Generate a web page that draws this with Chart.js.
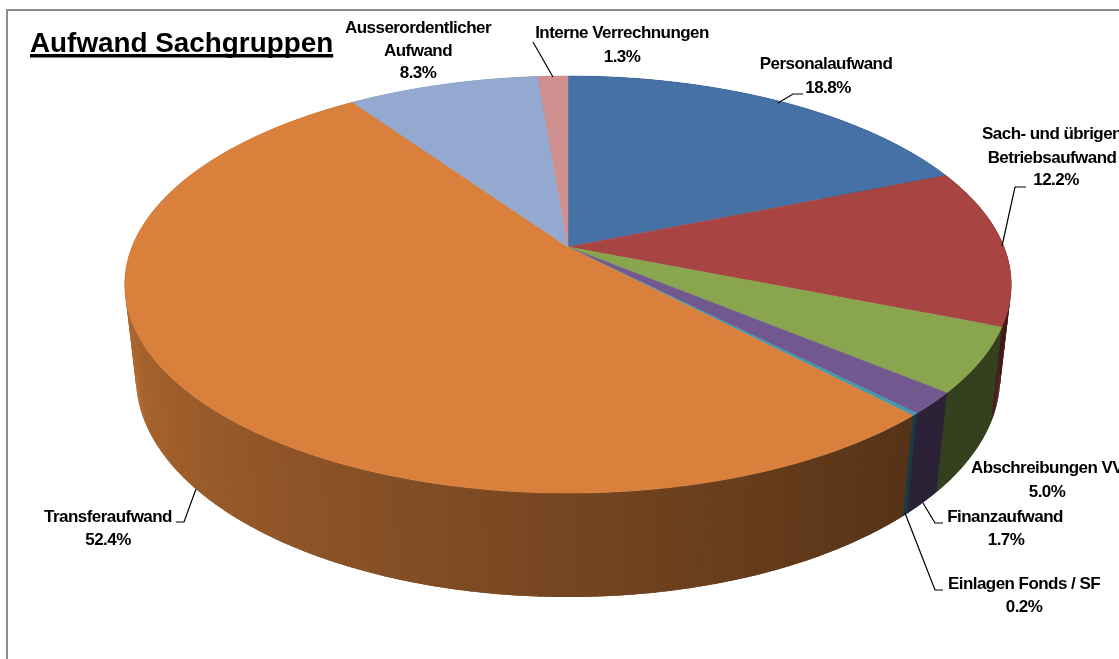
<!DOCTYPE html>
<html lang="de">
<head>
<meta charset="utf-8">
<title>Aufwand Sachgruppen</title>
<style>
  html, body { margin: 0; padding: 0; background: #fff; overflow: hidden; }
  #wrap { position: relative; width: 1119px; height: 659px; }
</style>
</head>
<body>
<div id="wrap"><canvas id="chart" width="1119" height="659"></canvas></div>
<script src="https://cdn.jsdelivr.net/npm/chart.js@4"></script>
<script>
'use strict';

// ── Data ───────────────────────────────────────────────────────────────────────
const chartTitle = 'Aufwand Sachgruppen';
const categories = [
  'Personalaufwand',
  'Sach- und übrigen\nBetriebsaufwand',
  'Abschreibungen VV',
  'Finanzaufwand',
  'Einlagen Fonds / SF',
  'Transferaufwand',
  'Ausserordentlicher\nAufwand',
  'Interne Verrechnungen',
];
const shares = [18.8, 12.2, 5.0, 1.7, 0.2, 52.4, 8.3, 1.3];

// ── Styles ─────────────────────────────────────────────────────────────────────
const sliceColors = ['#4571A6', '#A84442', '#89A54E', '#71588F', '#4198AF', '#D9813C', '#93A9CF', '#CF9190'];
const LABEL_FONT = 'bold 17px "Liberation Sans", Arial, sans-serif';
const TITLE_FONT = 'bold 27.85px "Liberation Sans", Arial, sans-serif';

// label layout, same order as categories: centre x, then y of each text line
const labelBoxes = [
  { x: 826, ys: [64, 88], pctX: 828 },
  { x: 1052, ys: [134, 158, 180], pctX: 1056 },
  { x: 1047, ys: [468, 492] },
  { x: 1005, ys: [517, 540], pctX: 1006 },
  { x: 1024, ys: [584, 607] },
  { x: 108, ys: [517, 540] },
  { x: 418, ys: [28, 51, 73] },
  { x: 622, ys: [33, 57] },
];
const leaderLines = [
  [[778, 103], [793, 94], [803, 94]],
  [[1002, 246], [1015, 187], [1026, 187]],
  null,
  [[923, 503], [935, 523], [943, 523]],
  [[905, 513], [935, 590], [943, 590]],
  [[196, 489], [184, 522], [176, 522]],
  null,
  [[533, 42], [553, 77]],
];

// tilt of the pie: perspective factor, half sizes of the disc, and the thickness
const view = { k: 0.18, a: 436, b: 201.8, depthY: 94, depthW: 0.025 };

// ── Projection ─────────────────────────────────────────────────────────────────

// angle in chart radians -> canvas point, on the top rim (low=false) or lower rim
function project(cx, cy, angle, low) {
  const u = Math.cos(angle);
  const v = Math.sin(angle);
  const w = 1 - view.k * v + (low ? view.depthW : 0);
  return {
    x: cx + view.a * u / w,
    y: cy + (view.b * v + (low ? view.depthY : 0)) / w,
  };
}

function shade(hex, f) {
  const n = parseInt(hex.slice(1), 16);
  const c = [(n >> 16) & 255, (n >> 8) & 255, n & 255].map(v => Math.round(v * f));
  return `rgb(${c[0]},${c[1]},${c[2]})`;
}

// side wall gets lighter going round to the left
function wallFactor(angle) {
  let deg = (angle * 180 / Math.PI + 90) % 360;
  if (deg < 0) deg += 360;
  if (deg <= 136) return 0.39;
  if (deg >= 270) return 0.85;
  return 0.39 + 0.46 * (deg - 136) / 134;
}

function drawWalls(ctx, arcs) {
  const quads = [];
  arcs.forEach((arc, i) => {
    const span = arc.endAngle - arc.startAngle;
    const steps = Math.max(2, Math.ceil(span / (0.6 * Math.PI / 180)));
    for (let s = 0; s < steps; s++) {
      const a0 = arc.startAngle + span * s / steps;
      const a1 = arc.startAngle + span * (s + 1) / steps;
      quads.push({ a0, a1, mid: Math.sin((a0 + a1) / 2), color: sliceColors[i], x: arc.x, y: arc.y });
    }
  });
  // back to front; each quad runs a little under the one painted after it, no seams
  quads.sort((p, q) => p.mid - q.mid);
  const overlap = 0.5 * Math.PI / 180;
  quads.forEach(q => {
    const midAngle = (q.a0 + q.a1) / 2;
    const towardFront = Math.cos(midAngle) > 0;
    const from = towardFront ? q.a0 : q.a0 - overlap;
    const to = towardFront ? q.a1 + overlap : q.a1;
    const p = [
      project(q.x, q.y, from, false),
      project(q.x, q.y, to, false),
      project(q.x, q.y, to, true),
      project(q.x, q.y, from, true),
    ];
    ctx.beginPath();
    p.forEach((pt, i) => (i ? ctx.lineTo(pt.x, pt.y) : ctx.moveTo(pt.x, pt.y)));
    ctx.closePath();
    ctx.fillStyle = shade(q.color, wallFactor(midAngle));
    ctx.fill();
  });
}

function drawTop(ctx, arcs) {
  arcs.forEach((arc, i) => {
    const span = arc.endAngle - arc.startAngle;
    const steps = Math.max(2, Math.ceil(span / (Math.PI / 360)));
    ctx.beginPath();
    ctx.moveTo(arc.x, arc.y);
    for (let s = 0; s <= steps; s++) {
      const pt = project(arc.x, arc.y, arc.startAngle + span * s / steps, false);
      ctx.lineTo(pt.x, pt.y);
    }
    ctx.closePath();
    ctx.fillStyle = sliceColors[i];
    ctx.strokeStyle = sliceColors[i];
    ctx.lineWidth = 0.5;
    ctx.fill();
    ctx.stroke();
  });
}

function drawLabels(ctx) {
  ctx.font = LABEL_FONT;
  ctx.letterSpacing = '-0.55px';
  ctx.fillStyle = '#000';
  ctx.textAlign = 'center';
  ctx.textBaseline = 'middle';
  categories.forEach((name, i) => {
    const box = labelBoxes[i];
    const lines = name.split('\n');
    lines.forEach((line, l) => ctx.fillText(line, box.x, box.ys[l]));
    const pct = shares[i].toFixed(1) + '%';
    ctx.fillText(pct, box.pctX || box.x, box.ys[lines.length]);

    const leader = leaderLines[i];
    if (!leader) return;
    ctx.beginPath();
    leader.forEach((pt, n) => (n ? ctx.lineTo(pt[0], pt[1]) : ctx.moveTo(pt[0], pt[1])));
    ctx.strokeStyle = '#000';
    ctx.lineWidth = 1.2;
    ctx.stroke();
  });
  ctx.letterSpacing = '0px';
}

// ── Plugins ────────────────────────────────────────────────────────────────────

const framePlugin = {
  id: 'frame',
  beforeDraw(chart) {
    const ctx = chart.ctx;
    ctx.save();
    ctx.fillStyle = '#fff';
    ctx.fillRect(0, 0, chart.width, chart.height);
    ctx.strokeStyle = '#8c8c8c';
    ctx.lineWidth = 2;
    ctx.strokeRect(7, 10, chart.width + 20, chart.height + 20);
    ctx.restore();
  },
};

// draws the arcs of the pie controller as a tilted disc with a side wall
const tiltedPiePlugin = {
  id: 'tiltedPie',
  beforeDatasetsDraw(chart) {
    const ctx = chart.ctx;
    const arcs = chart.getDatasetMeta(0).data;
    ctx.save();
    drawWalls(ctx, arcs);
    drawTop(ctx, arcs);
    drawLabels(ctx);

    // title with its underline
    ctx.font = TITLE_FONT;
    ctx.fillStyle = '#000';
    ctx.textAlign = 'left';
    ctx.textBaseline = 'alphabetic';
    ctx.fillText(chartTitle, 30, 52);
    ctx.fillRect(30, 54, ctx.measureText(chartTitle).width, 3.5);
    ctx.restore();
    return false;
  },
};

// ── Bootstrap ──────────────────────────────────────────────────────────────────

new Chart(document.getElementById('chart').getContext('2d'), {
  type: 'pie',
  data: {
    labels: categories,
    datasets: [{ data: shares, backgroundColor: sliceColors, borderWidth: 0 }],
  },
  options: {
    responsive: false,
    animation: false,
    events: [],
    // puts the pie centre where the slices meet
    layout: { padding: { left: 17, right: 0, top: 0, bottom: 165 } },
    plugins: {
      legend: { display: false },
      tooltip: { enabled: false },
    },
  },
  plugins: [framePlugin, tiltedPiePlugin],
});
</script>
</body>
</html>
